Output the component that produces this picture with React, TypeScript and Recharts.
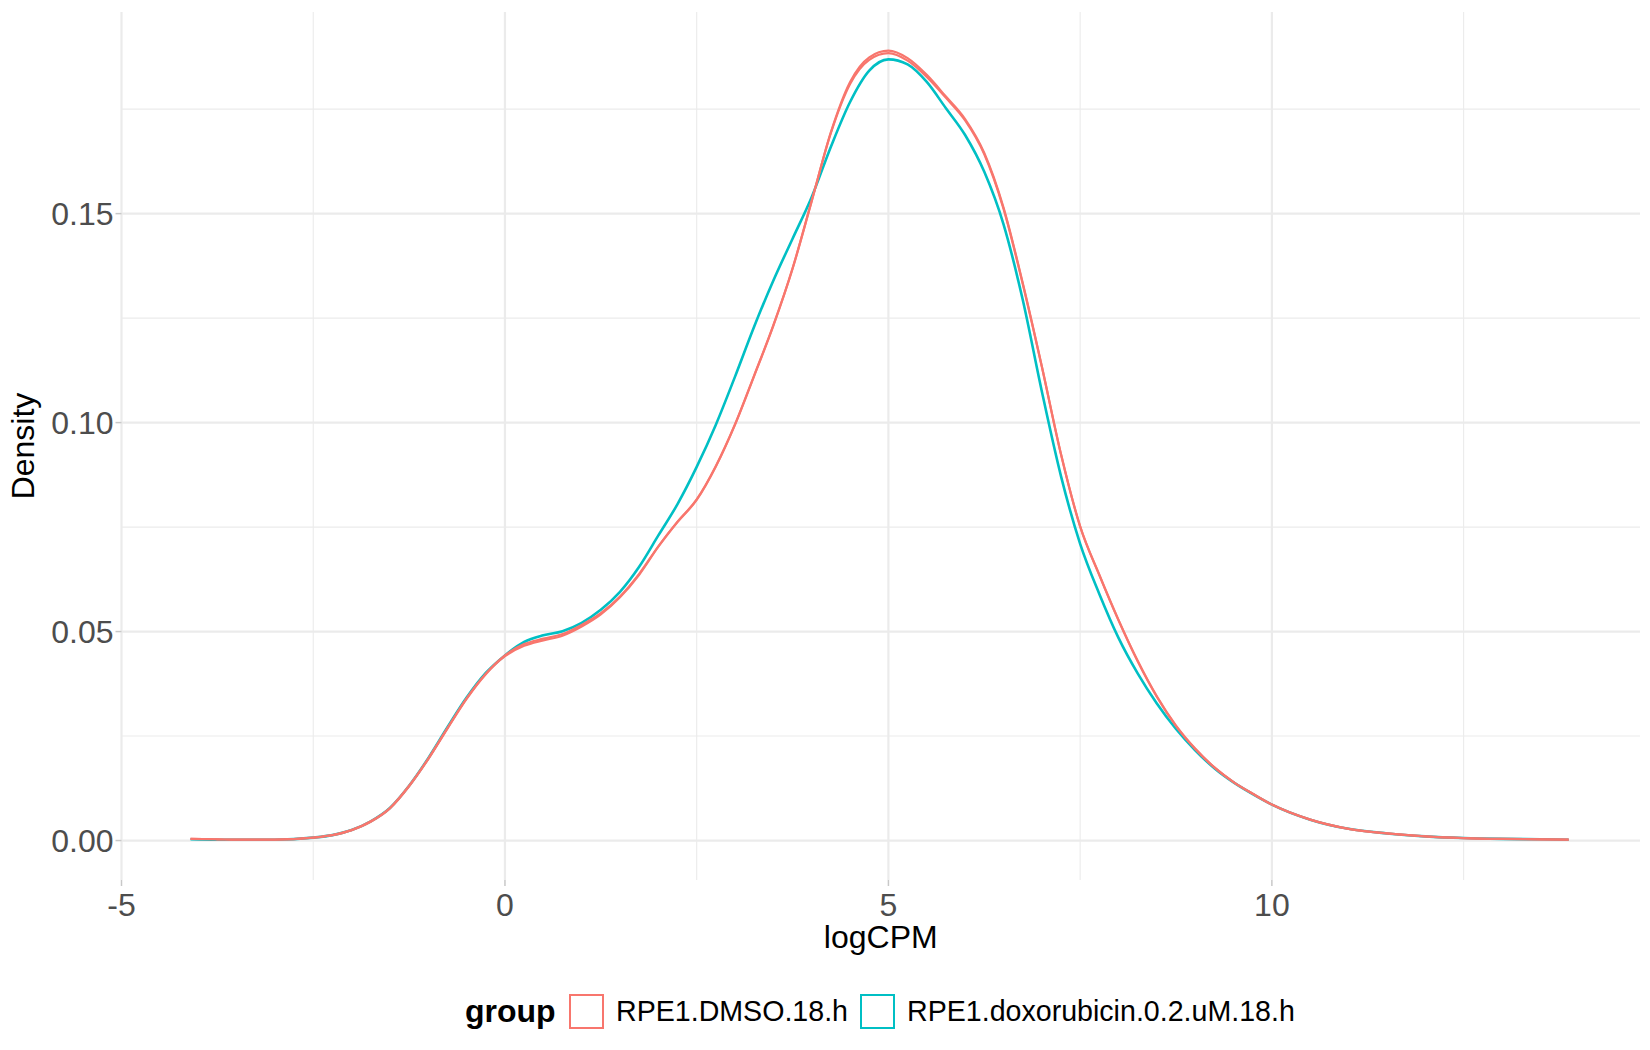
import React from 'react';
import { LineChart, Line, XAxis, YAxis, CartesianGrid, Legend, Label } from 'recharts';

const FONT = '"Liberation Sans", Arial, Helvetica, sans-serif';

// logCPM grid (x)
const logCPM = [
  -4.1, -3.75, -3.5, -3.0, -2.5, -2.25, -2.0, -1.75, -1.5, -1.25,
  -1.0, -0.75, -0.5, -0.25, 0, 0.25, 0.5, 0.75, 1.0, 1.25,
  1.5, 1.75, 2.0, 2.25, 2.5, 2.75, 3.0, 3.25, 3.5, 3.75,
  4.0, 4.25, 4.5, 4.75, 5.0, 5.25, 5.5, 5.75, 6.0, 6.25,
  6.5, 6.75, 7.0, 7.25, 7.5, 7.75, 8.0, 8.25, 8.5, 8.75,
  9.0, 9.25, 9.5, 9.75, 10.0, 10.5, 11.0, 11.5, 12.0, 12.5,
  13.0, 13.5, 13.87,
];

// RPE1.DMSO.18.h, replicate 1
const dmsoRep1 = [
  0.0004, 0.0003, 0.0002, 0.0002, 0.0007, 0.0013, 0.0025, 0.0045, 0.0077, 0.0130,
  0.0195, 0.0268, 0.0339, 0.0398, 0.0441, 0.0466, 0.0479, 0.0490, 0.0512, 0.0541,
  0.0582, 0.0636, 0.0703, 0.0762, 0.0815, 0.0895, 0.0995, 0.1112, 0.1232, 0.1368,
  0.1530, 0.1695, 0.1815, 0.1874, 0.1890, 0.1872, 0.1832, 0.1780, 0.1726, 0.1645,
  0.1515, 0.1335, 0.1135, 0.0925, 0.0752, 0.0636, 0.0528, 0.0430, 0.0345, 0.0275,
  0.0220, 0.0175, 0.0140, 0.0112, 0.0086, 0.0050, 0.0028, 0.0017, 0.0010, 0.0006,
  0.0004, 0.0003, 0.0002,
];

// RPE1.DMSO.18.h, replicate 2
const dmsoRep2 = [
  0.0004, 0.0003, 0.0002, 0.0002, 0.0007, 0.0013, 0.0025, 0.0046, 0.0078, 0.0131,
  0.0196, 0.0269, 0.0340, 0.0399, 0.0443, 0.0470, 0.0483, 0.0494, 0.0516, 0.0544,
  0.0584, 0.0638, 0.0704, 0.0763, 0.0816, 0.0896, 0.0996, 0.1113, 0.1233, 0.1369,
  0.1531, 0.1693, 0.1810, 0.1868, 0.1884, 0.1866, 0.1827, 0.1777, 0.1723, 0.1642,
  0.1512, 0.1333, 0.1134, 0.0924, 0.0751, 0.0635, 0.0527, 0.0429, 0.0344, 0.0274,
  0.0219, 0.0175, 0.0140, 0.0112, 0.0086, 0.0050, 0.0028, 0.0017, 0.0010, 0.0006,
  0.0004, 0.0003, 0.0002,
];

// RPE1.doxorubicin.0.2.uM.18.h
const doxorubicin = [
  0.0003, 0.0002, 0.0002, 0.0002, 0.0007, 0.0013, 0.0025, 0.0046, 0.0078, 0.0131,
  0.0197, 0.0271, 0.0342, 0.0401, 0.0443, 0.0475, 0.0491, 0.0501, 0.0521, 0.0552,
  0.0595, 0.0655, 0.0730, 0.0805, 0.0894, 0.0995, 0.1110, 0.1230, 0.1340, 0.1440,
  0.1540, 0.1660, 0.1767, 0.1842, 0.1869, 0.1857, 0.1815, 0.1752, 0.1688, 0.1600,
  0.1475, 0.1295, 0.1075, 0.0872, 0.0710, 0.0590, 0.0485, 0.0400, 0.0328, 0.0267,
  0.0216, 0.0173, 0.0139, 0.0111, 0.0086, 0.0050, 0.0028, 0.0017, 0.0010, 0.0006,
  0.0004, 0.0003, 0.0002,
];

const xTicks = [-5, 0, 5, 10];
const yTicks = [0, 0.05, 0.1, 0.15];
const xMinor = [-2.5, 2.5, 7.5, 12.5];
const yMinor = [0.025, 0.075, 0.125, 0.175];
const groupNames = ['RPE1.DMSO.18.h', 'RPE1.doxorubicin.0.2.uM.18.h'];
const groupColors = ['#F8766D', '#00BFC4'];

const data = logCPM.map((x, i) => ({
  x,
  dmso1: dmsoRep1[i],
  dmso2: dmsoRep2[i],
  dox: doxorubicin[i],
}));

const XTitle = (props: any) => {
  const vb = props.viewBox || {};
  const cx = vb.x + vb.width / 2;
  return (
    <text x={cx} y={vb.y + 68} textAnchor="middle" fontSize={32} fill="#000000" fontFamily={FONT}>
      logCPM
    </text>
  );
};

const YTitle = (props: any) => {
  const vb = props.viewBox || {};
  const cx = 33.5;
  const cy = vb.y + vb.height / 2;
  return (
    <text
      x={cx}
      y={cy}
      transform={`rotate(-90 ${cx} ${cy})`}
      textAnchor="middle"
      fontSize={32}
      fill="#000000"
      fontFamily={FONT}
    >
      Density
    </text>
  );
};

const LegendBox = () => {
  const key = (color: string, left: number) => (
    <div
      style={{
        position: 'absolute',
        left,
        top: 3.5,
        width: 35,
        height: 35,
        boxSizing: 'border-box',
        border: `2px solid ${color}`,
        background: '#ffffff',
      }}
    />
  );
  const text = (t: string, left: number, size: number, bold: boolean) => (
    <div
      style={{
        position: 'absolute',
        left,
        top: 3.5,
        height: 35,
        display: 'flex',
        alignItems: 'center',
        fontSize: size,
        fontWeight: bold ? 700 : 400,
        color: '#000000',
        whiteSpace: 'nowrap',
        fontFamily: FONT,
      }}
    >
      {t}
    </div>
  );
  return (
    <div style={{ position: 'relative', width: 1650, height: 60 }}>
      {text('group', 465, 32, true)}
      {key(groupColors[0], 569)}
      {text(groupNames[0], 616, 28.6, false)}
      {key(groupColors[1], 860)}
      {text(groupNames[1], 907, 28.6, false)}
    </div>
  );
};

export default function App() {
  return (
    <div style={{ position: 'absolute', left: 0, top: 0, width: 1650, height: 1050, background: '#ffffff' }}>
      <LineChart
        width={1650}
        height={1050}
        data={data}
        margin={{ top: 12, right: 10, left: 0, bottom: 0 }}
      >
        <CartesianGrid
          horizontalValues={yMinor}
          verticalValues={xMinor}
          stroke="#EBEBEB"
          strokeWidth={1.1}
        />
        <CartesianGrid
          horizontalValues={yTicks}
          verticalValues={xTicks}
          stroke="#EBEBEB"
          strokeWidth={2.2}
        />
        <XAxis
          dataKey="x"
          type="number"
          domain={[-5.0, 14.8]}
          ticks={xTicks}
          allowDataOverflow
          axisLine={false}
          tickLine={{ stroke: '#C8C8C8', strokeWidth: 1.5 }}
          tickSize={6}
          tickMargin={7}
          height={110}
          tick={{ fill: '#4D4D4D', fontSize: 32, fontFamily: FONT }}
          tickFormatter={(v: number) => String(v)}
        >
          <Label content={XTitle} />
        </XAxis>
        <YAxis
          type="number"
          domain={[-0.00944, 0.19824]}
          ticks={yTicks}
          allowDataOverflow
          axisLine={false}
          tickLine={{ stroke: '#C8C8C8', strokeWidth: 1.5 }}
          tickSize={6}
          tickMargin={2}
          width={121.5}
          tick={{ fill: '#4D4D4D', fontSize: 32, fontFamily: FONT }}
          tickFormatter={(v: number) => v.toFixed(2)}
        >
          <Label content={YTitle} />
        </YAxis>
        <Legend
          verticalAlign="bottom"
          align="left"
          wrapperStyle={{ left: 0, bottom: 0, width: 1650, height: 60, margin: 0, padding: 0 }}
          content={() => <LegendBox />}
        />
        <Line type="monotone" dataKey="dox" stroke={groupColors[1]} strokeWidth={2.6} dot={false} activeDot={false} isAnimationActive={false} />
        <Line type="monotone" dataKey="dmso2" stroke={groupColors[0]} strokeWidth={2.2} dot={false} activeDot={false} isAnimationActive={false} />
        <Line type="monotone" dataKey="dmso1" stroke={groupColors[0]} strokeWidth={2.2} dot={false} activeDot={false} isAnimationActive={false} />
      </LineChart>
    </div>
  );
}
